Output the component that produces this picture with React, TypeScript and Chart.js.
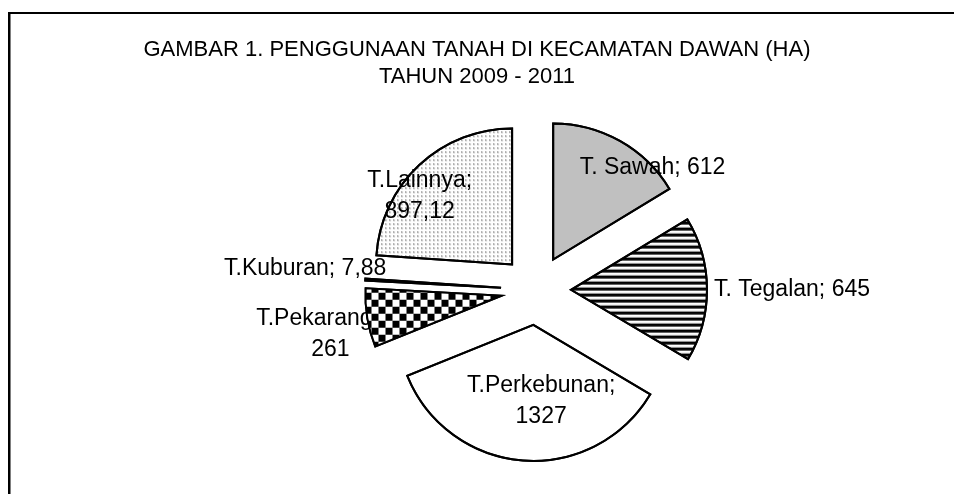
import React, { useEffect, useRef } from "react";
import { Chart, registerables } from "chart.js";

Chart.register(...registerables);

// ---- data ----
const categories = ["T. Sawah", "T. Tegalan", "T.Perkebunan", "T.Pekarangan", "T.Kuburan", "T.Lainnya"];
const values = [612, 645, 1327, 261, 7.88, 897.12];
const valueLabels = ["612", "645", "1327", "261", "7,88", "897,12"];
const titleLines = ["GAMBAR 1. PENGGUNAAN TANAH DI KECAMATAN DAWAN (HA)", "TAHUN 2009 - 2011"];

// ---- style ----
const FONT = "'Liberation Sans', Arial, 'DejaVu Sans', sans-serif";
const EXPLODE = 35;
const RADIUS = 136;
const labelWrap = [false, false, true, true, false, true];
const labelAlign: CanvasTextAlign[] = ["center", "left", "center", "center", "center", "center"];
const labelShift = [
  [66, -33],
  [75, 0],
  [13, 8],
  [-104, 27],
  [-128, -15],
  [-46, -19],
];
// slices whose fill is painted over the labels (as in the source, where the checker hides text)
const fillOverLabel = [false, false, false, true, false, false];

function makePattern(w: number, h: number, draw: (g: CanvasRenderingContext2D) => void) {
  const c = document.createElement("canvas");
  c.width = w;
  c.height = h;
  const g = c.getContext("2d")!;
  draw(g);
  return g.createPattern(c, "repeat")!;
}

export default function App() {
  const ref = useRef<HTMLCanvasElement>(null);

  useEffect(() => {
    const canvas = ref.current!;

    const stripes = makePattern(1, 6, (g) => {
      const rows = ["#000", "#000", "#404040", "#fff", "#fff", "#b0b0b0"];
      rows.forEach((c, i) => {
        g.fillStyle = c;
        g.fillRect(0, i, 1, 1);
      });
    });
    const checker = makePattern(14, 14, (g) => {
      g.fillStyle = "#fff";
      g.fillRect(0, 0, 14, 14);
      g.fillStyle = "#000";
      g.fillRect(0, 0, 7, 7);
      g.fillRect(7, 7, 7, 7);
    });
    const dots = makePattern(4, 4, (g) => {
      g.fillStyle = "#fff";
      g.fillRect(0, 0, 4, 4);
      g.fillStyle = "#d0d0d0";
      g.fillRect(1, 1, 2, 2);
      g.fillStyle = "#6a6a6a";
      g.fillRect(1, 1, 1, 1);
    });

    const fills = ["#c0c0c0", stripes, "#ffffff", checker, "#ffffff", dots];

    const framePlugin = {
      id: "frame",
      beforeDraw(chart: any) {
        const ctx = chart.ctx;
        ctx.save();
        ctx.fillStyle = "#fff";
        ctx.fillRect(0, 0, chart.width, chart.height);
        ctx.fillStyle = "#000";
        ctx.fillRect(8, 12, chart.width, 2);
        ctx.fillRect(8, 12, 2.5, chart.height);
        ctx.font = `22px ${FONT}`;
        ctx.textAlign = "center";
        ctx.textBaseline = "middle";
        titleLines.forEach((t, i) => ctx.fillText(t, chart.width / 2, 50 + i * 27));
        ctx.restore();
      },
    };

    const explodePlugin = {
      id: "explode",
      beforeDatasetDraw(chart: any, args: any) {
        const ctx = chart.ctx;
        args.meta.data.forEach((arc: any) => {
          const mid = (arc.startAngle + arc.endAngle) / 2;
          ctx.save();
          ctx.translate(Math.cos(mid) * EXPLODE, Math.sin(mid) * EXPLODE);
          arc.draw(ctx);
          ctx.restore();
        });
        return false;
      },
    };

    const labelPlugin = {
      id: "sliceLabels",
      afterDraw(chart: any) {
        const ctx = chart.ctx;
        const meta = chart.getDatasetMeta(0);
        ctx.save();
        ctx.fillStyle = "#000";
        ctx.font = `23px ${FONT}`;
        ctx.textBaseline = "middle";
        meta.data.forEach((arc: any, i: number) => {
          const mid = (arc.startAngle + arc.endAngle) / 2;
          const d = EXPLODE + arc.outerRadius * 0.5;
          const x = arc.x + Math.cos(mid) * d + labelShift[i][0];
          const y = arc.y + Math.sin(mid) * d + labelShift[i][1];
          ctx.textAlign = labelAlign[i];
          if (labelWrap[i]) {
            ctx.fillText(categories[i] + ";", x, y - 15.5);
            ctx.fillText(valueLabels[i], x, y + 15.5);
          } else {
            ctx.fillText(categories[i] + "; " + valueLabels[i], x, y);
          }
        });
        ctx.restore();

        // slice outlines (and selected fills) on top of the labels
        meta.data.forEach((arc: any, i: number) => {
          const mid = (arc.startAngle + arc.endAngle) / 2;
          ctx.save();
          ctx.translate(Math.cos(mid) * EXPLODE, Math.sin(mid) * EXPLODE);
          ctx.beginPath();
          ctx.moveTo(arc.x, arc.y);
          ctx.arc(arc.x, arc.y, arc.outerRadius, arc.startAngle, arc.endAngle);
          ctx.closePath();
          if (fillOverLabel[i]) {
            ctx.fillStyle = arc.options.backgroundColor;
            ctx.fill();
          }
          ctx.lineWidth = arc.options.borderWidth;
          ctx.strokeStyle = arc.options.borderColor;
          ctx.lineJoin = "miter";
          ctx.stroke();
          ctx.restore();
        });
      },
    };

    const chart = new Chart(canvas, {
      type: "pie",
      data: {
        labels: categories,
        datasets: [
          {
            data: values,
            backgroundColor: fills as any,
            borderColor: "#000",
            borderWidth: 2,
            borderJoinStyle: "miter",
            radius: RADIUS,
          } as any,
        ],
      },
      options: {
        responsive: false,
        animation: false,
        events: [],
        layout: { padding: { left: 118, right: 0, top: 90, bottom: 4 } },
        plugins: {
          legend: { display: false },
          tooltip: { enabled: false },
          title: { display: false },
        },
      },
      plugins: [framePlugin, explodePlugin, labelPlugin],
    });

    return () => chart.destroy();
  }, []);

  return (
    <div style={{ position: "absolute", left: 0, top: 0, width: 954, height: 494, background: "#fff" }}>
      <canvas ref={ref} width={954} height={494} style={{ display: "block", width: 954, height: 494 }} />
    </div>
  );
}
